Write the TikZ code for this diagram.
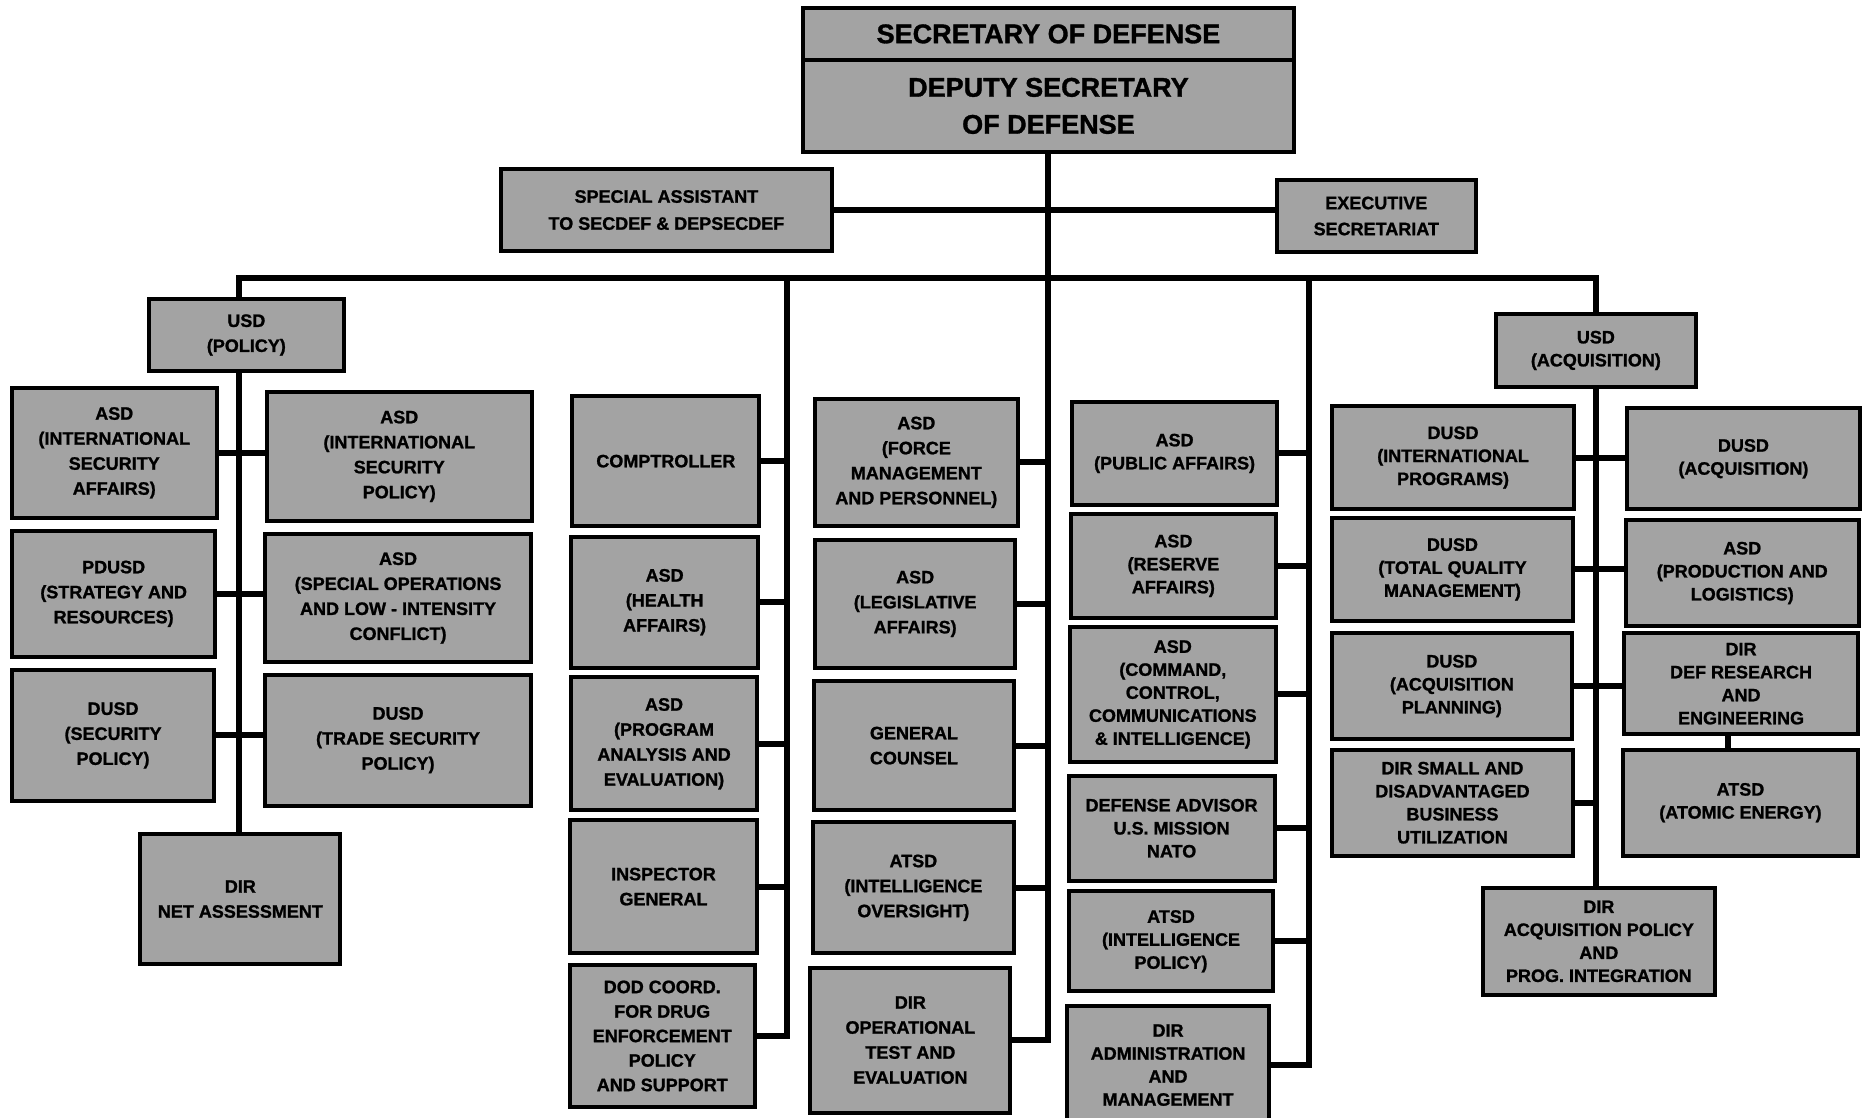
\documentclass[tikz,border=0pt]{standalone}
\usepackage{fontspec}
\setmainfont{Liberation Sans}[BoldFeatures={FakeBold=1.2}]
\definecolor{boxgray}{gray}{0.64}
\tikzset{
  orgbox/.style={draw=black, line width=4pt, fill=boxgray, align=center, inner sep=0pt,
    font=\fontsize{18}{25}\selectfont\bfseries},
  tightbox/.style={font=\fontsize{18}{23}\selectfont\bfseries},
  bigbox/.style={font=\fontsize{27}{37}\selectfont\bfseries},
  link/.style={line width=6pt, line cap=butt, line join=miter},
}
% [style]{name}{x1}{y1}{x2}{y2}{text}
\newcommand\mkbox[7][]{\node[orgbox,#1,minimum width={(#5-#3)*1.19pt},minimum height={(#6-#4)*1.19pt}] (#2) at ({(#3+#5)/2},{(#4+#6)/2}) {#7};}
\begin{document}
\begin{tikzpicture}[x=1.19pt,y=-1.19pt]
\clip (0,0) rectangle (1568,939);
\fill[white] (0,0) rectangle (1568,939);

% top
\mkbox[bigbox]{secdef}{675}{7}{1087}{50}{SECRETARY OF DEFENSE}
\mkbox[bigbox]{depsec}{675}{50}{1087}{128}{DEPUTY SECRETARY\\OF DEFENSE}
\mkbox[font=\fontsize{18}{27}\selectfont\bfseries]{sa}{421}{142}{699}{211}{SPECIAL ASSISTANT\\TO SECDEF \& DEPSECDEF}
\mkbox[font=\fontsize{18}{26}\selectfont\bfseries]{es}{1073}{151}{1240}{212}{EXECUTIVE\\SECRETARIAT}

% policy
\mkbox{usdp}{125}{251}{289}{312}{USD\\(POLICY)}
\mkbox{isa}{10}{326}{182}{435}{ASD\\(INTERNATIONAL\\SECURITY\\AFFAIRS)}
\mkbox{pdusd}{10}{446}{181}{552}{PDUSD\\(STRATEGY AND\\RESOURCES)}
\mkbox{dsp}{10}{563}{180}{673}{DUSD\\(SECURITY\\POLICY)}
\mkbox{isp}{224}{329}{447}{438}{ASD\\(INTERNATIONAL\\SECURITY\\POLICY)}
\mkbox{solic}{223}{449}{446}{556}{ASD\\(SPECIAL OPERATIONS\\AND LOW - INTENSITY\\CONFLICT)}
\mkbox{tsp}{223}{567}{446}{677}{DUSD\\(TRADE SECURITY\\POLICY)}
\mkbox{netass}{118}{701}{286}{810}{DIR\\NET ASSESSMENT}

% column 1
\mkbox{comp}{481}{333}{638}{442}{COMPTROLLER}
\mkbox{health}{480}{451}{637}{561}{ASD\\(HEALTH\\AFFAIRS)}
\mkbox{pae}{480}{569}{636}{681}{ASD\\(PROGRAM\\ANALYSIS AND\\EVALUATION)}
\mkbox{ig}{479}{689}{636}{801}{INSPECTOR\\GENERAL}
\mkbox[font=\fontsize{18}{24.5}\selectfont\bfseries]{dod}{479}{811}{634}{930}{DOD COORD.\\FOR DRUG\\ENFORCEMENT\\POLICY\\AND SUPPORT}

% column 2
\mkbox{fm}{685}{335}{855}{442}{ASD\\(FORCE\\MANAGEMENT\\AND PERSONNEL)}
\mkbox{leg}{685}{454}{853}{561}{ASD\\(LEGISLATIVE\\AFFAIRS)}
\mkbox{gc}{684}{572}{852}{681}{GENERAL\\COUNSEL}
\mkbox{io}{683}{691}{852}{801}{ATSD\\(INTELLIGENCE\\OVERSIGHT)}
\mkbox{opt}{681}{813}{849}{935}{DIR\\OPERATIONAL\\TEST AND\\EVALUATION}

% column 3
\mkbox[tightbox]{pa}{901}{338}{1073}{424}{ASD\\(PUBLIC AFFAIRS)}
\mkbox[tightbox]{ra}{900}{432}{1072}{519}{ASD\\(RESERVE\\AFFAIRS)}
\mkbox[tightbox]{cci}{899}{527}{1072}{640}{ASD\\(COMMAND,\\CONTROL,\\COMMUNICATIONS\\\& INTELLIGENCE)}
\mkbox[tightbox]{nato}{898}{652}{1071}{740}{DEFENSE ADVISOR\\U.S. MISSION\\NATO}
\mkbox[tightbox]{ip}{898}{749}{1070}{833}{ATSD\\(INTELLIGENCE\\POLICY)}
\mkbox[tightbox]{adm}{897}{845}{1066}{945}{DIR\\ADMINISTRATION\\AND\\MANAGEMENT}

% acquisition
\mkbox[tightbox]{usda}{1257}{264}{1425}{325}{USD\\(ACQUISITION)}
\mkbox[tightbox]{dip}{1119}{341}{1323}{428}{DUSD\\(INTERNATIONAL\\PROGRAMS)}
\mkbox[tightbox]{tqm}{1119}{435}{1322}{522}{DUSD\\(TOTAL QUALITY\\MANAGEMENT)}
\mkbox[tightbox]{plan}{1119}{532}{1321}{621}{DUSD\\(ACQUISITION\\PLANNING)}
\mkbox[tightbox]{sdb}{1119}{630}{1322}{719}{DIR SMALL AND\\DISADVANTAGED\\BUSINESS\\UTILIZATION}
\mkbox[tightbox]{dacq}{1367}{343}{1563}{428}{DUSD\\(ACQUISITION)}
\mkbox[tightbox]{prod}{1366}{437}{1562}{526}{ASD\\(PRODUCTION AND\\LOGISTICS)}
\mkbox[tightbox]{dre}{1365}{532}{1561}{617}{DIR\\DEF RESEARCH\\AND\\ENGINEERING}
\mkbox[tightbox]{atom}{1364}{630}{1561}{719}{ATSD\\(ATOMIC ENERGY)}
\mkbox[tightbox]{dap}{1246}{746}{1441}{836}{DIR\\ACQUISITION POLICY\\AND\\PROG. INTEGRATION}

% connectors
\coordinate (busL) at (201,234);
\coordinate (busR) at (1341,234);
\coordinate (c1) at (661,234);
\coordinate (c3) at (1100,234);
\coordinate (drex) at (1452,617);

\draw[link] (depsec.south) -- (depsec.south |- opt.east) -- (opt.east);
\draw[link] (sa.east) -- (sa.east -| es.west);
\draw[link] (busL |- usdp.north) -- (busL) -- (busR) -- (busR |- usda.north);

% policy
\draw[link] (busL |- usdp.south) -- (busL |- netass.north);
\draw[link] (isa.east) -- (isa.east -| isp.west);
\draw[link] (pdusd.east) -- (pdusd.east -| solic.west);
\draw[link] (dsp.east) -- (dsp.east -| tsp.west);

% column 1
\draw[link] (c1) -- (c1 |- dod.east) -- (dod.east);
\draw[link] (comp.east) -- (comp.east -| c1);
\draw[link] (health.east) -- (health.east -| c1);
\draw[link] (pae.east) -- (pae.east -| c1);
\draw[link] (ig.east) -- (ig.east -| c1);

% column 2
\draw[link] (fm.east) -- (fm.east -| depsec.south);
\draw[link] (leg.east) -- (leg.east -| depsec.south);
\draw[link] (gc.east) -- (gc.east -| depsec.south);
\draw[link] (io.east) -- (io.east -| depsec.south);

% column 3
\draw[link] (c3) -- (c3 |- adm.east) -- (adm.east);
\draw[link] (pa.east) -- (pa.east -| c3);
\draw[link] (ra.east) -- (ra.east -| c3);
\draw[link] (cci.east) -- (cci.east -| c3);
\draw[link] (nato.east) -- (nato.east -| c3);
\draw[link] (ip.east) -- (ip.east -| c3);

% acquisition
\draw[link] (busR |- usda.south) -- (busR |- dap.north);
\draw[link] (dip.east) -- (dip.east -| dacq.west);
\draw[link] (tqm.east) -- (tqm.east -| prod.west);
\draw[link] (plan.east) -- (plan.east -| dre.west);
\draw[link] (sdb.east) -- (sdb.east -| busR);
\draw[link] (drex |- dre.south) -- (drex |- atom.north);
\end{tikzpicture}
\end{document}
